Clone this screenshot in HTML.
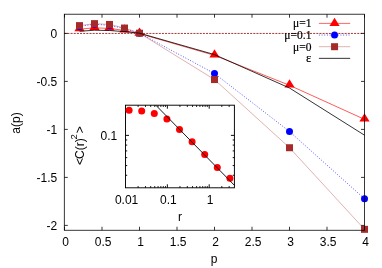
<!DOCTYPE html><html><head><meta charset="utf-8"><style>html,body{margin:0;padding:0;background:#fff}svg{will-change:transform;transform:translateZ(0)}</style></head><body><svg width="382" height="268" viewBox="0 0 382 268" style="display:block">
<rect width="382" height="268" fill="#fff"/>
<g font-family="Liberation Sans, sans-serif" font-size="12" fill="#000">
<text x="57.2" y="37.80" text-anchor="end">0</text>
<text x="57.2" y="85.80" text-anchor="end">-0.5</text>
<text x="57.2" y="133.80" text-anchor="end">-1</text>
<text x="57.2" y="181.80" text-anchor="end">-1.5</text>
<text x="57.2" y="229.80" text-anchor="end">-2</text>
<text x="65.70" y="246.3" text-anchor="middle">0</text>
<text x="103.20" y="246.3" text-anchor="middle">0.5</text>
<text x="140.70" y="246.3" text-anchor="middle">1</text>
<text x="178.20" y="246.3" text-anchor="middle">1.5</text>
<text x="215.70" y="246.3" text-anchor="middle">2</text>
<text x="253.20" y="246.3" text-anchor="middle">2.5</text>
<text x="290.70" y="246.3" text-anchor="middle">3</text>
<text x="328.20" y="246.3" text-anchor="middle">3.5</text>
<text x="365.70" y="246.3" text-anchor="middle">4</text>
<text x="214.2" y="263.3" text-anchor="middle">p</text>
<text transform="translate(19.9 123.0) rotate(-90)" text-anchor="middle">a(p)</text>
</g>
<path d="M64.3 33.449999999999996H364.5" stroke="#a52a2a" stroke-width="0.95" stroke-dasharray="2 1.15" fill="none"/>
<polyline points="79.50,28.78 94.50,27.44 109.50,28.02 124.50,30.03 139.50,33.20 214.50,54.99 289.50,84.90 364.50,118.93" transform="translate(0 0.4)" stroke="#ff0000" stroke-width="0.65" fill="none"/>
<path d="M79.50 23.07L74.40 31.33H84.60Z" fill="#ff0000"/>
<path d="M94.50 21.73L89.40 29.99H99.60Z" fill="#ff0000"/>
<path d="M109.50 22.30L104.40 30.57H114.60Z" fill="#ff0000"/>
<path d="M124.50 24.32L119.40 32.58H129.60Z" fill="#ff0000"/>
<path d="M139.50 27.49L134.40 35.75H144.60Z" fill="#ff0000"/>
<path d="M214.50 49.28L209.40 57.54H219.60Z" fill="#ff0000"/>
<path d="M289.50 79.18L284.40 87.45H294.60Z" fill="#ff0000"/>
<path d="M364.50 113.22L359.40 121.48H369.60Z" fill="#ff0000"/>
<polyline points="79.50,26.38 94.50,24.18 109.50,25.42 124.50,28.40 139.50,33.20 214.50,73.52 289.50,131.50 364.50,198.80" stroke="#0000ff" stroke-width="0.72" stroke-dasharray="0.9 1.8" fill="none"/>
<circle cx="79.50" cy="26.38" r="3.5" fill="#0000ff"/>
<circle cx="94.50" cy="24.18" r="3.5" fill="#0000ff"/>
<circle cx="109.50" cy="25.42" r="3.5" fill="#0000ff"/>
<circle cx="124.50" cy="28.40" r="3.5" fill="#0000ff"/>
<circle cx="139.50" cy="33.20" r="3.5" fill="#0000ff"/>
<circle cx="214.50" cy="73.52" r="3.5" fill="#0000ff"/>
<circle cx="289.50" cy="131.50" r="3.5" fill="#0000ff"/>
<circle cx="364.50" cy="198.80" r="3.5" fill="#0000ff"/>
<polyline points="79.50,25.62 94.50,23.65 109.50,24.46 124.50,28.05 139.50,33.20 214.50,79.57 289.50,147.73 364.50,229.33" stroke="#a52a2a" stroke-width="0.36" fill="none"/>
<rect x="76.00" y="22.12" width="7" height="7" fill="#a52a2a"/>
<rect x="91.00" y="20.15" width="7" height="7" fill="#a52a2a"/>
<rect x="106.00" y="20.96" width="7" height="7" fill="#a52a2a"/>
<rect x="121.00" y="24.55" width="7" height="7" fill="#a52a2a"/>
<rect x="136.00" y="29.70" width="7" height="7" fill="#a52a2a"/>
<rect x="211.00" y="76.07" width="7" height="7" fill="#a52a2a"/>
<rect x="286.00" y="144.23" width="7" height="7" fill="#a52a2a"/>
<rect x="361.00" y="225.83" width="7" height="7" fill="#a52a2a"/>
<polyline points="79.50,31.28 94.50,30.22 109.50,30.51 124.50,31.66 139.50,33.20 214.50,54.60 289.50,88.02 364.50,135.20" stroke="#000" stroke-width="0.8" fill="none"/>
<g stroke="#000" stroke-width="0.78" fill="none">
<rect x="64.3" y="14.2" width="300.2" height="216.05"/>
<path d="M64.3 33.40h3.5M364.5 33.40h-3.5"/>
<path d="M64.3 81.40h3.5M364.5 81.40h-3.5"/>
<path d="M64.3 129.40h3.5M364.5 129.40h-3.5"/>
<path d="M64.3 177.40h3.5M364.5 177.40h-3.5"/>
<path d="M64.3 225.40h3.5M364.5 225.40h-3.5"/>
<path d="M64.50 230.25v-3.5M64.50 14.2v3.5"/>
<path d="M102.00 230.25v-3.5M102.00 14.2v3.5"/>
<path d="M139.50 230.25v-3.5M139.50 14.2v3.5"/>
<path d="M177.00 230.25v-3.5M177.00 14.2v3.5"/>
<path d="M214.50 230.25v-3.5M214.50 14.2v3.5"/>
<path d="M252.00 230.25v-3.5M252.00 14.2v3.5"/>
<path d="M289.50 230.25v-3.5M289.50 14.2v3.5"/>
<path d="M327.00 230.25v-3.5M327.00 14.2v3.5"/>
<path d="M364.50 230.25v-3.5M364.50 14.2v3.5"/>
</g>
<g font-family="Liberation Serif, serif" font-size="11.5" fill="#000" text-anchor="end">
<text x="311.4" y="27.30" stroke="#000" stroke-width="0.2">μ=1</text>
<text x="311.4" y="38.95" stroke="#000" stroke-width="0.2">μ=0.1</text>
<text x="311.4" y="50.60" stroke="#000" stroke-width="0.2">μ=0</text>
<text x="311.4" y="62.25" stroke="#000" stroke-width="0.2"><tspan font-size="12.6">ε</tspan></text>
</g>
<path d="M318.9 23.4H350.2" stroke="#ff0000" stroke-width="0.6"/>
<path d="M334.55 17.69L329.45 25.95H339.65Z" fill="#ff0000"/>
<path d="M318.9 35.05H350.2" stroke="#0000ff" stroke-width="0.72" stroke-dasharray="0.9 1.8"/>
<circle cx="334.54999999999995" cy="35.05" r="3.5" fill="#0000ff"/>
<path d="M318.9 46.7H350.2" stroke="#a52a2a" stroke-width="0.36"/>
<rect x="331.04999999999995" y="43.2" width="7" height="7" fill="#a52a2a"/>
<path d="M318.9 58.35H350.2" stroke="#000" stroke-width="0.8"/>
<rect x="125.5" y="105.2" width="108.9" height="82.60000000000001" fill="#fff" stroke="none"/>
<g stroke="#000" stroke-width="0.95" fill="none">
<rect x="125.5" y="105.2" width="108.9" height="82.60000000000001"/>
<path d="M138.10 187.8v-1.7M138.10 105.2v1.7"/>
<path d="M145.47 187.8v-1.7M145.47 105.2v1.7"/>
<path d="M150.70 187.8v-1.7M150.70 105.2v1.7"/>
<path d="M154.75 187.8v-1.7M154.75 105.2v1.7"/>
<path d="M158.07 187.8v-1.7M158.07 105.2v1.7"/>
<path d="M160.87 187.8v-1.7M160.87 105.2v1.7"/>
<path d="M163.30 187.8v-1.7M163.30 105.2v1.7"/>
<path d="M165.44 187.8v-1.7M165.44 105.2v1.7"/>
<path d="M167.35 187.8v-3.5M167.35 105.2v3.5"/>
<path d="M179.95 187.8v-1.7M179.95 105.2v1.7"/>
<path d="M187.32 187.8v-1.7M187.32 105.2v1.7"/>
<path d="M192.55 187.8v-1.7M192.55 105.2v1.7"/>
<path d="M196.60 187.8v-1.7M196.60 105.2v1.7"/>
<path d="M199.92 187.8v-1.7M199.92 105.2v1.7"/>
<path d="M202.72 187.8v-1.7M202.72 105.2v1.7"/>
<path d="M205.15 187.8v-1.7M205.15 105.2v1.7"/>
<path d="M207.29 187.8v-1.7M207.29 105.2v1.7"/>
<path d="M209.20 187.8v-3.5M209.20 105.2v3.5"/>
<path d="M221.80 187.8v-1.7M221.80 105.2v1.7"/>
<path d="M229.17 187.8v-1.7M229.17 105.2v1.7"/>
<path d="M125.5 175.27h1.7M234.4 175.27h-1.7"/>
<path d="M125.5 165.56h1.7M234.4 165.56h-1.7"/>
<path d="M125.5 157.62h1.7M234.4 157.62h-1.7"/>
<path d="M125.5 150.91h1.7M234.4 150.91h-1.7"/>
<path d="M125.5 145.10h1.7M234.4 145.10h-1.7"/>
<path d="M125.5 139.97h1.7M234.4 139.97h-1.7"/>
<path d="M125.5 135.38h3.5M234.4 135.38h-3.5"/>
</g>
<circle cx="129.10" cy="110.30" r="3.5" fill="#ff0000"/>
<circle cx="141.70" cy="111.00" r="3.5" fill="#ff0000"/>
<circle cx="154.30" cy="113.50" r="3.5" fill="#ff0000"/>
<circle cx="166.90" cy="118.90" r="3.5" fill="#ff0000"/>
<circle cx="179.50" cy="129.40" r="3.5" fill="#ff0000"/>
<circle cx="192.10" cy="141.70" r="3.5" fill="#ff0000"/>
<circle cx="204.70" cy="154.60" r="3.5" fill="#ff0000"/>
<circle cx="217.30" cy="167.60" r="3.5" fill="#ff0000"/>
<circle cx="229.90" cy="178.20" r="3.5" fill="#ff0000"/>
<path d="M155.8 105.2L234.4 185.3" stroke="#000" stroke-width="0.9" fill="none"/>
<g font-family="Liberation Sans, sans-serif" font-size="12" fill="#000">
<text x="117.2" y="140.1" text-anchor="end">0.1</text>
<text x="126.6" y="203.7" text-anchor="middle">0.01</text>
<text x="168.4" y="203.7" text-anchor="middle">0.1</text>
<text x="210.2" y="203.7" text-anchor="middle">1</text>
<text x="180" y="221" text-anchor="middle">r</text>
<text transform="translate(83.6 146.2) rotate(-90)" text-anchor="middle"><tspan dx="0.6">&lt;</tspan><tspan dx="-0.9">C(r)</tspan><tspan font-size="9.6" dy="-6.6" dx="-1.3">2</tspan><tspan dy="6.6" dx="1.0">&gt;</tspan></text>
</g>
</svg></body></html>
